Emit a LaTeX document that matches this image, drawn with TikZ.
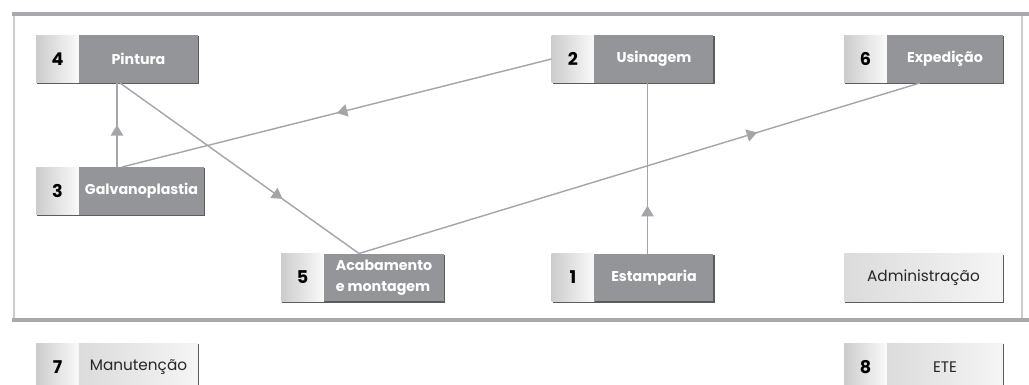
\documentclass[tikz,border=0pt]{standalone}
\usepackage{fontspec}
\setmainfont{Poppins}
\usepackage{xcolor}
\usetikzlibrary{arrows.meta}
\usetikzlibrary{positioning}
\usetikzlibrary{shadows}
\usetikzlibrary{decorations.markings}
\definecolor{boxgray}{HTML}{939599}
\definecolor{linegray}{HTML}{A3A5A9}
\definecolor{framegray}{HTML}{A7A9AC}
\definecolor{framelight}{HTML}{C9CBCD}

\begin{document}
\begin{tikzpicture}[x=0.02cm, y=-0.02cm,
        every node/.style={outer sep=0pt, inner sep=1pt, minimum height=0.96cm},
        boxshadow/.style={drop shadow={shadow xshift=0.7pt, shadow yshift=-0.8pt, fill=black!75, opacity=0.85}},
        numbox/.style={boxshadow, minimum width=0.86cm, left color=black!20, right color=black!2,
            font=\fontsize{10}{12}\selectfont\bfseries},
        stepname/.style={boxshadow, minimum width=#1, fill=boxgray, text=white,
            font=\fontsize{8.1}{12}\selectfont\bfseries},
        stepname/.default=2.38cm,
        lightname/.style={boxshadow, minimum width=#1, left color=black!14, right color=black!4, text=black!85,
            font=\fontsize{8.7}{12}\selectfont},
        lightname/.default=2.38cm,
        flow/.style={draw=linegray, line width=0.8pt,
            decoration={markings, mark=at position #1 with {\arrow[linegray]{Triangle[length=6pt, width=7pt]}}},
            postaction={decorate}}
    ]
        \useasboundingbox (0, 0) rectangle (1029, 385);

        % frame of the plant
        \draw[framelight, line width=1.2pt] (14, 16) -- (14, 318);
        \draw[framelight, line width=1.2pt] (1022, 16) -- (1022, 318);
        \draw[framegray, line width=2.3pt] (12, 14) -- (1029, 14);
        \draw[framegray, line width=2.3pt] (12, 320) -- (1029, 320);

        % sectors
        \node[numbox] (n4) at (57.5, 59) {4};
        \node[stepname, right=0pt of n4] (pintura) {Pintura};
        \node[numbox] (n3) at (57.5, 191) {3};
        \node[stepname=2.5cm, right=0pt of n3] (galv) {Galvanoplastia};
        \node[numbox] (n2) at (573, 59) {2};
        \node[stepname, right=0pt of n2] (usin) {Usinagem};
        \node[numbox] (n6) at (865.5, 59) {6};
        \node[stepname=2.32cm, right=0pt of n6] (exped) {Expedição};
        \node[numbox] (n5) at (302.5, 277.5) {5};
        \node[stepname=2.4cm, right=0pt of n5, align=left] (acab) {Acabamento\\e montagem};
        \node[numbox] (n1) at (573, 277.5) {1};
        \node[stepname, right=0pt of n1] (estamp) {Estamparia};
        \node[lightname=3.18cm] (admin) at (923.5, 277.5) {Administração};

        % outside
        \node[numbox] (n7) at (57.5, 367) {7};
        \node[lightname, right=0pt of n7] (manut) {Manutenção};
        \node[numbox] (n8) at (865.5, 367) {8};
        \node[lightname=2.32cm, right=0pt of n8] (ete) {ETE};

        % material flow
        \draw[flow=0.5] ([xshift=0.76cm]galv.north west) -- ([xshift=0.76cm]pintura.south west);
        \draw[flow=0.68] ([xshift=0.82cm]pintura.south west) -- ([xshift=0.7cm]acab.north west);
        \draw[flow=0.5] (n2.west) -- ([xshift=0.86cm]galv.north west);
        \draw[flow=0.71] ([xshift=0.7cm]acab.north west) -- ([xshift=0.66cm]exped.south west);
        \draw[flow=0.28] ([xshift=1.06cm]estamp.north west) -- ([xshift=1.06cm]usin.south west);
    \end{tikzpicture}
\end{document}
